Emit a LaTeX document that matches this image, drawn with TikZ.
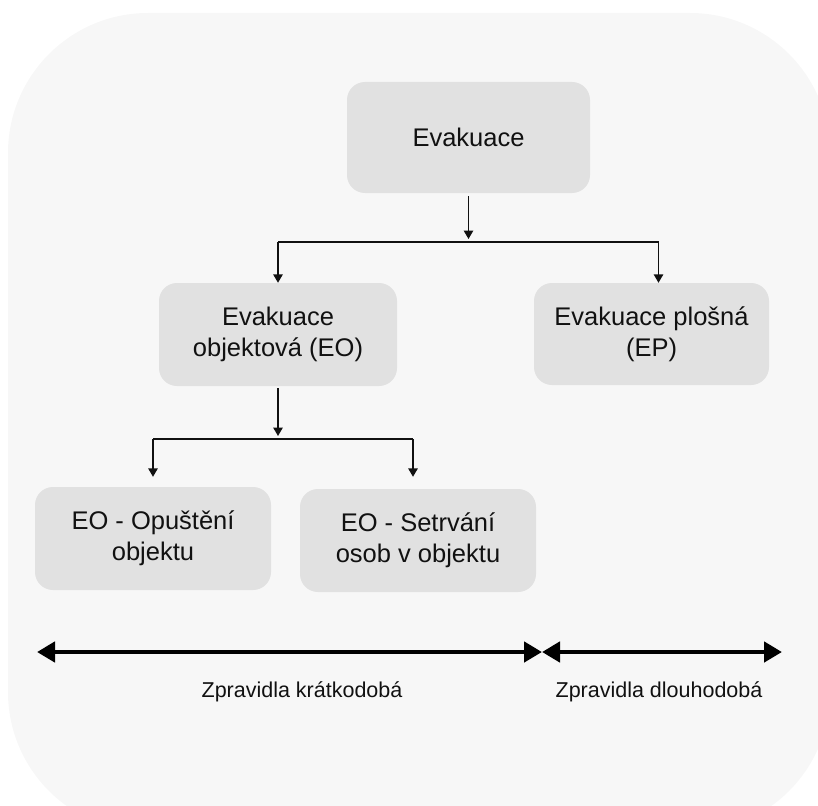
\documentclass[tikz,border=0pt]{standalone}
\usepackage{fontspec}
\setmainfont{Liberation Sans}
\usetikzlibrary{arrows.meta}
\definecolor{bgc}{HTML}{F7F7F7}
\definecolor{boxc}{HTML}{E1E1E1}
\definecolor{txt}{HTML}{111111}
\tikzset{
  box/.style={fill=boxc, rounded corners=18pt, align=center, inner sep=0pt,
    text=txt, font=\fontsize{25.5pt}{31pt}\selectfont},
  conn/.style={line width=1.4pt, draw=txt},
  connarrow/.style={conn, -{Triangle[length=8.5pt,width=9.5pt]}},
  span/.style={line width=4.5pt, draw=black,
    {Triangle[length=18pt,width=20pt]}-{Triangle[length=18pt,width=20pt]}},
  lab/.style={font=\fontsize{21.5pt}{25pt}\selectfont, text=txt}
}
\begin{document}
\begin{tikzpicture}[x=1pt,y=-1pt]
\useasboundingbox (0,0) rectangle (818,805);
\clip (0,0) rectangle (818,805);
\fill[bgc, rounded corners=140pt] (8,13) rectangle (830,832);

\node[box, minimum width=243pt, minimum height=111pt] (ev) at (468.5,137.5) {Evakuace};
\node[box, minimum width=238pt, minimum height=103pt] (eo) at (278,334.5) {Evakuace\\objektová (EO)};
\node[box, minimum width=235pt, minimum height=102pt] (ep) at (651.5,334) {Evakuace plošná\\(EP)};
\node[box, minimum width=236pt, minimum height=103pt] (op) at (153,538.5) {EO - Opuštění\\objektu};
\node[box, minimum width=236pt, minimum height=103pt] (se) at (418,540.5) {EO - Setrvání\\osob v objektu};

% tree connectors level 1
\coordinate (j1) at (468.5,242);
\draw[connarrow, shorten <=3pt, shorten >=3pt] (ev.south) -- (j1);
\draw[conn] (eo.north |- j1) -- ([xshift=7pt]ep.north |- j1);
\draw[connarrow] (eo.north |- j1) -- (eo.north);
\draw[connarrow] ([xshift=7pt]ep.north |- j1) -- ([xshift=7pt]ep.north);

% tree connectors level 2
\coordinate (j2) at (278,439);
\draw[connarrow, shorten <=2pt, shorten >=3pt] (eo.south) -- (j2);
\draw[conn] (op.north |- j2) -- ([xshift=-5pt]se.north |- j2);
\draw[connarrow, shorten >=10pt] (op.north |- j2) -- (op.north);
\draw[connarrow, shorten >=12pt] ([xshift=-5pt]se.north |- j2) -- ([xshift=-5pt]se.north);

% time spans
\coordinate (a1) at (37,652);
\coordinate (am) at (542,652);
\coordinate (a2) at (782,652);
\draw[span] (a1) -- (am);
\draw[span] (am) -- (a2);

\node[lab] (l1) at (302,692) {Zpravidla krátkodobá};
\node[lab] (l2) at (659,692) {Zpravidla dlouhodobá};
\end{tikzpicture}
\end{document}
